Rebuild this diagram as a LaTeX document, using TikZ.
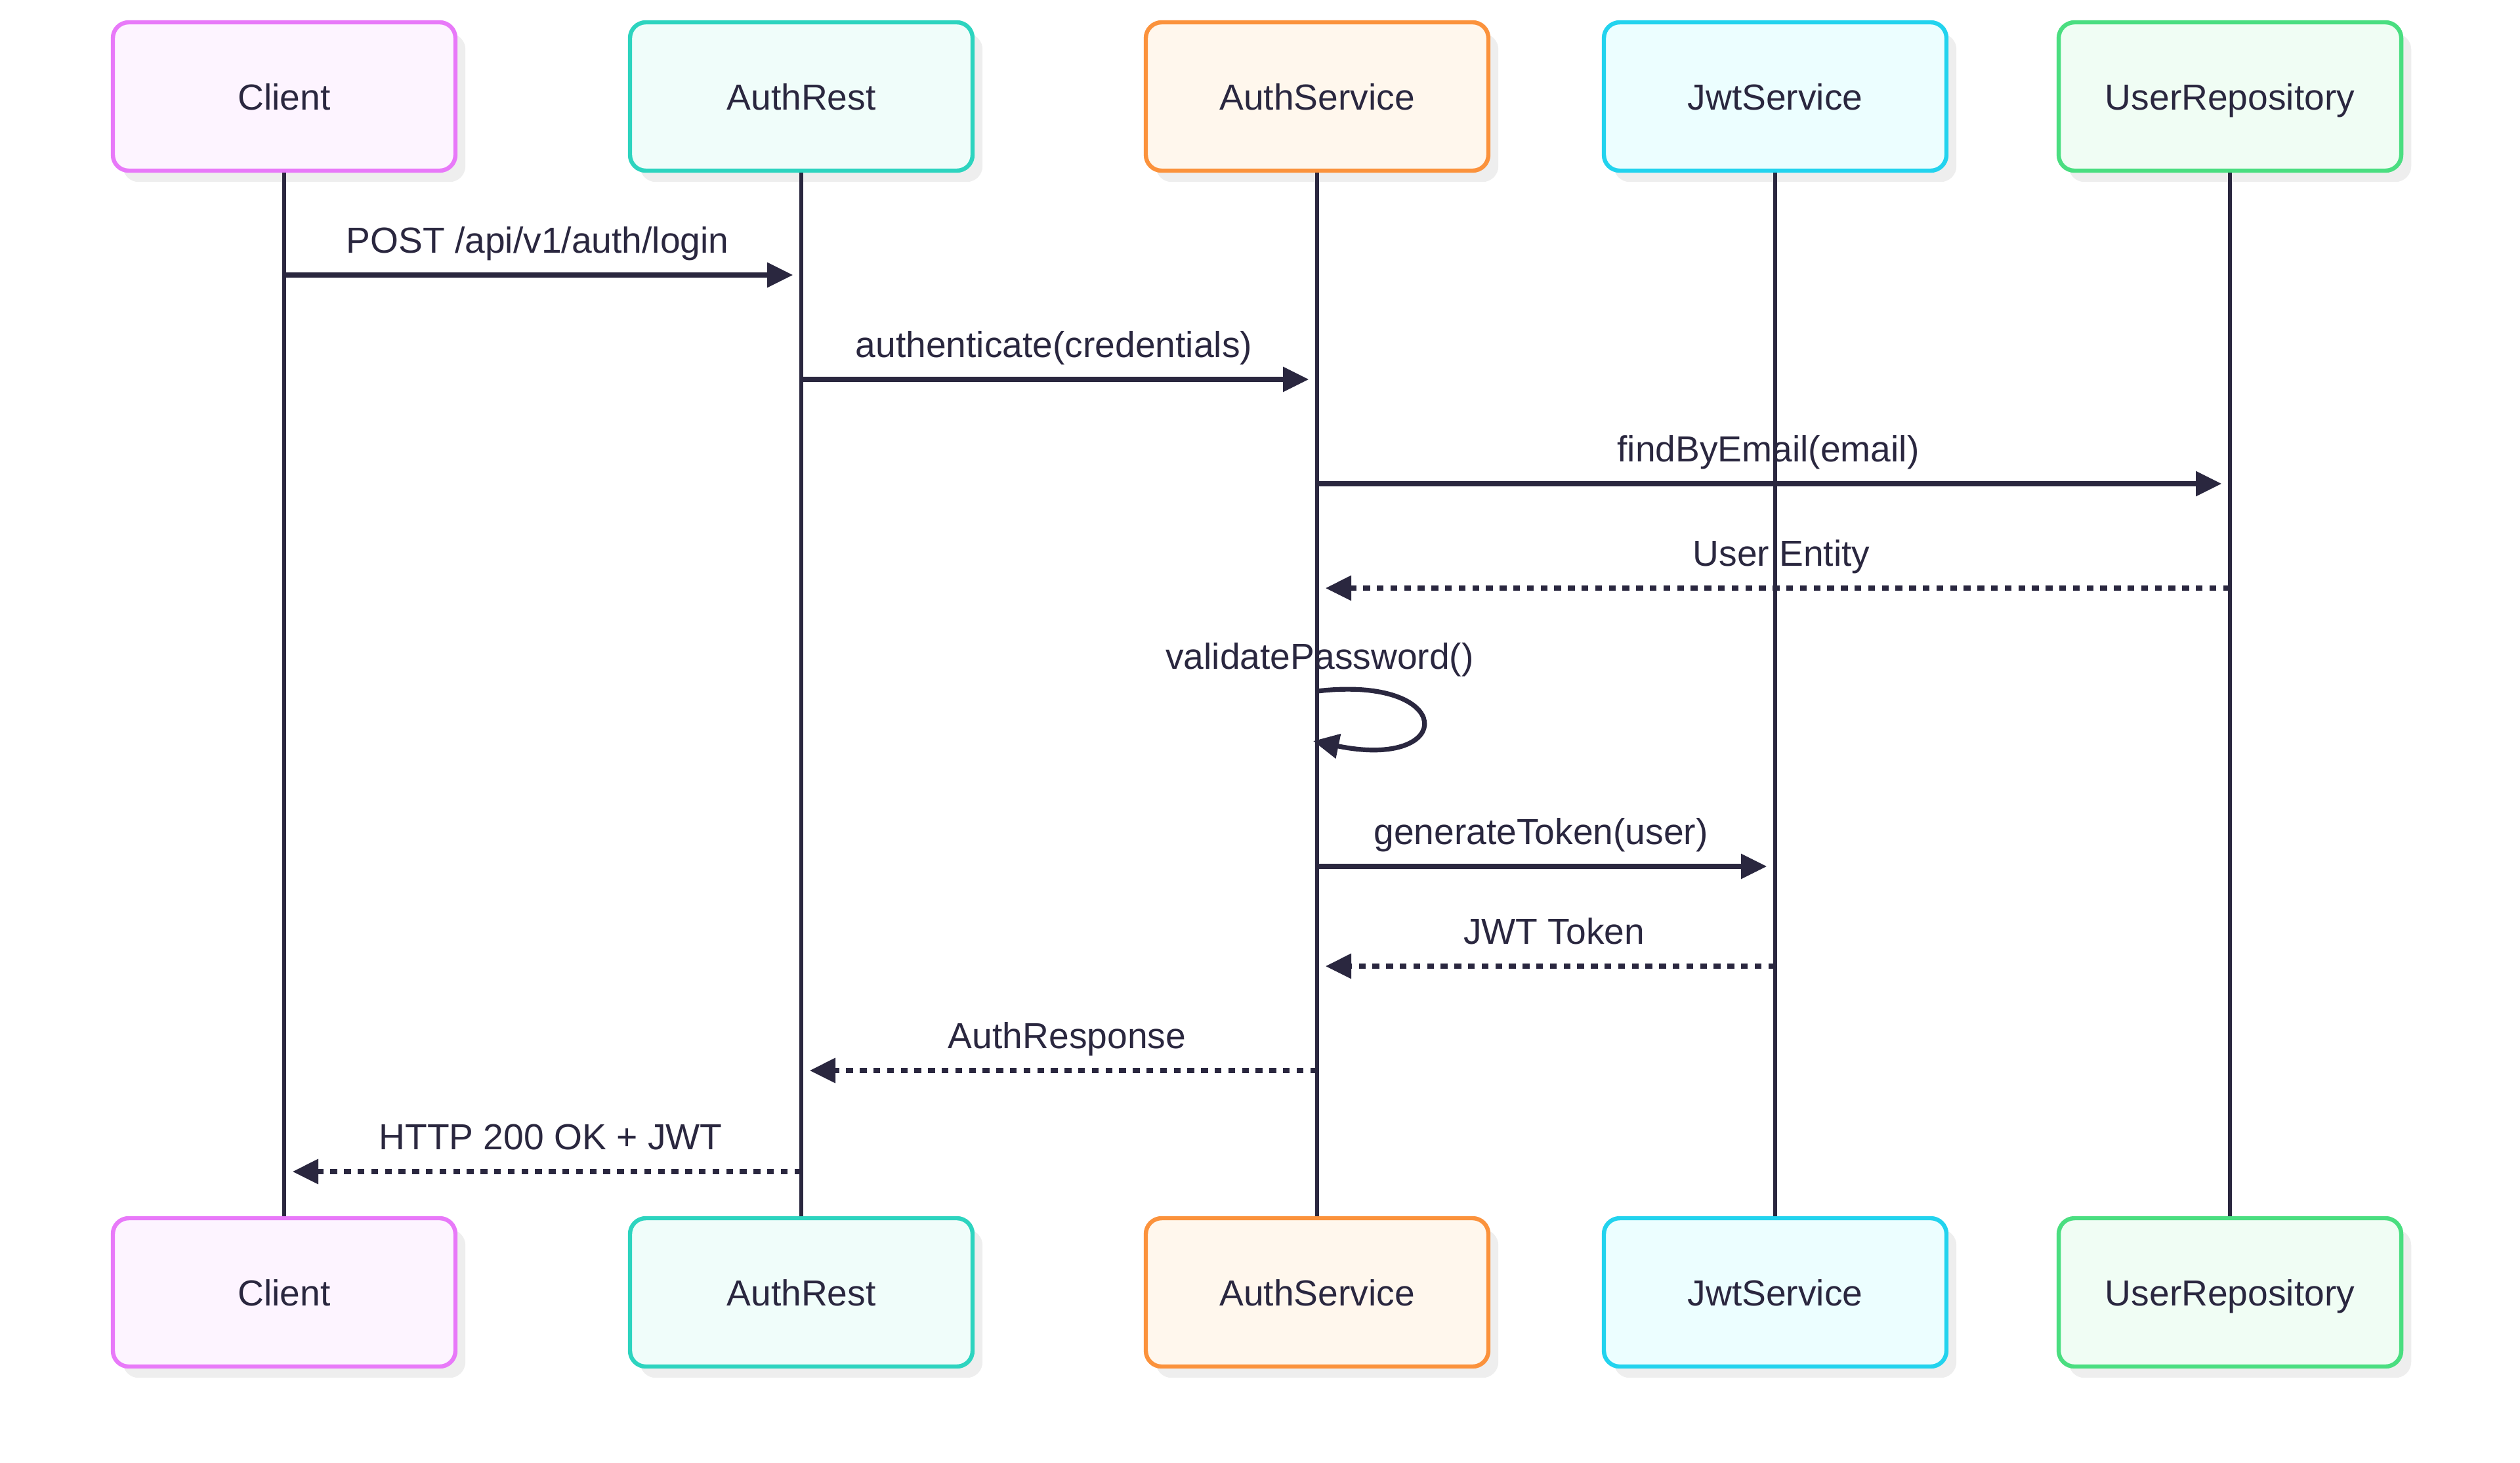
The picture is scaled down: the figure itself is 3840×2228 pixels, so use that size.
\documentclass[tikz,border=0pt]{standalone}
\usepackage{fontspec}
\setmainfont{Liberation Sans}
\usetikzlibrary{arrows.meta,shadows,calc}
\definecolor{ink}{HTML}{2A273F}
\definecolor{shadowgray}{HTML}{EEEEEE}
\definecolor{cB}{HTML}{E879F9}\definecolor{cF}{HTML}{FDF4FF}
\definecolor{rB}{HTML}{2DD4BF}\definecolor{rF}{HTML}{F0FDFA}
\definecolor{sB}{HTML}{FB923C}\definecolor{sF}{HTML}{FFF7ED}
\definecolor{jB}{HTML}{22D3EE}\definecolor{jF}{HTML}{ECFEFF}
\definecolor{uB}{HTML}{4ADE80}\definecolor{uF}{HTML}{F0FDF4}
\tikzset{
  actorbox/.style={rectangle, rounded corners=6pt, minimum width=130.5pt, minimum height=56.5pt,
    line width=1.6pt, text=ink, font=\fontsize{13.8}{16}\selectfont,
    text height=10pt, text depth=0pt,
    drop shadow={shadow xshift=3.8pt, shadow yshift=-4.3pt, fill=shadowgray, opacity=1}},
  lifeline/.style={draw=ink, line width=1.5pt},
  msg/.style={draw=ink, line width=1.8pt, -{Triangle[length=9.8pt,width=9.2pt]}, shorten >=3.2pt},
  reply/.style={msg, dash pattern=on 2.6pt off 2.6pt},
  lbl/.style={text=ink, font=\fontsize{13.8}{16}\selectfont, inner sep=0pt, anchor=base}
}
\begin{document}
\begin{tikzpicture}[x=0.25pt,y=-0.25pt]
\useasboundingbox (0,0) rectangle (3840,2228);
% top actors
\node[actorbox, draw=cB, fill=cF] (cT) at (433,147) {Client};
\node[actorbox, draw=rB, fill=rF] (rT) at (1221,147) {AuthRest};
\node[actorbox, draw=sB, fill=sF] (sT) at (2007,147) {AuthService};
\node[actorbox, draw=jB, fill=jF] (jT) at (2705,147) {JwtService};
\node[actorbox, draw=uB, fill=uF] (uT) at (3398,147) {UserRepository};
% bottom actors
\node[actorbox, draw=cB, fill=cF] (cBo) at (433,1969) {Client};
\node[actorbox, draw=rB, fill=rF] (rBo) at (1221,1969) {AuthRest};
\node[actorbox, draw=sB, fill=sF] (sBo) at (2007,1969) {AuthService};
\node[actorbox, draw=jB, fill=jF] (jBo) at (2705,1969) {JwtService};
\node[actorbox, draw=uB, fill=uF] (uBo) at (3398,1969) {UserRepository};
% lifelines
\draw[lifeline] (cT.south) -- (cBo.north);
\draw[lifeline] (rT.south) -- (rBo.north);
\draw[lifeline] (sT.south) -- (sBo.north);
\draw[lifeline] (jT.south) -- (jBo.north);
\draw[lifeline] (uT.south) -- (uBo.north);
% message rows
\coordinate (y1) at (0,419);
\coordinate (y2) at (0,578);
\coordinate (y3) at (0,737);
\coordinate (y4) at (0,896);
\coordinate (y5) at (0,1053);
\coordinate (y5b) at (0,1129);
\coordinate (y6) at (0,1320);
\coordinate (y7) at (0,1472);
\coordinate (y8) at (0,1631);
\coordinate (y9) at (0,1785);
% messages
\draw[msg] (cT.south |- y1) -- (rT.south |- y1);
\node[lbl] (l1) at ($(cT.south |- y1)!0.5!(rT.south |- y1)+(-8,-34)$) {POST /api/v1/auth/login};
\draw[msg] (rT.south |- y2) -- (sT.south |- y2);
\node[lbl] (l2) at ($(rT.south |- y2)!0.5!(sT.south |- y2)+(-8,-34)$) {authenticate(credentials)};
\draw[msg] (sT.south |- y3) -- (uT.south |- y3);
\node[lbl] (l3) at ($(sT.south |- y3)!0.5!(uT.south |- y3)+(-8,-34)$) {findByEmail(email)};
\draw[reply] (uT.south |- y4) -- (sT.south |- y4);
\node[lbl] (l4) at ($(sT.south |- y4)!0.5!(uT.south |- y4)+(12,-34)$) {User Entity};
% self call
\coordinate (sa) at (sT.south |- y5);
\coordinate (sb) at ($(sT.south |- y5b)+(-6,0)$);
\draw[msg, shorten >=0pt] (sa) .. controls ($(sa)+(213,-25)$) and ($(sb)+(219,45)$) .. (sb);
\node[lbl] (l5) at ($(sa)+(4,-34)$) {validatePassword()};
\draw[msg] (sT.south |- y6) -- (jT.south |- y6);
\node[lbl] (l6) at ($(sT.south |- y6)!0.5!(jT.south |- y6)+(-8,-34)$) {generateToken(user)};
\draw[reply] (jT.south |- y7) -- (sT.south |- y7);
\node[lbl] (l7) at ($(sT.south |- y7)!0.5!(jT.south |- y7)+(12,-34)$) {JWT Token};
\draw[reply] (sT.south |- y8) -- (rT.south |- y8);
\node[lbl] (l8) at ($(rT.south |- y8)!0.5!(sT.south |- y8)+(12,-34)$) {AuthResponse};
\draw[reply] (rT.south |- y9) -- (cT.south |- y9);
\node[lbl] (l9) at ($(cT.south |- y9)!0.5!(rT.south |- y9)+(12,-34)$) {HTTP 200 OK + JWT};
\end{tikzpicture}
\end{document}
